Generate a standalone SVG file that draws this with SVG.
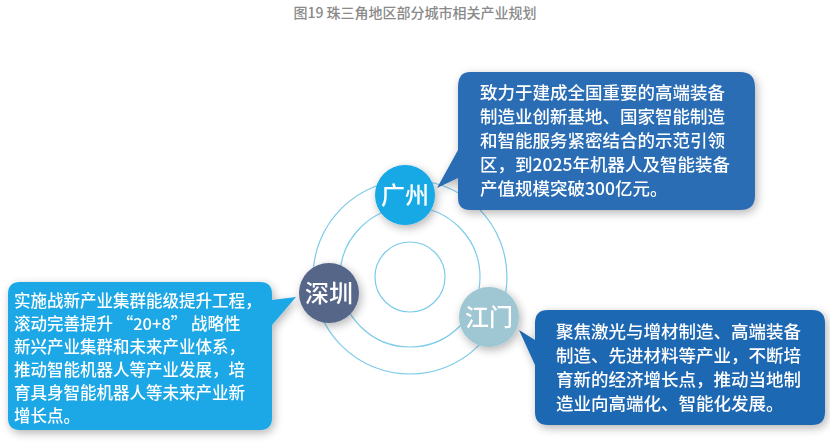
<svg xmlns="http://www.w3.org/2000/svg" width="830" height="442" viewBox="0 0 830 442">
<defs>
<filter id="sh" x="-20%" y="-20%" width="140%" height="140%"><feGaussianBlur in="SourceAlpha" stdDeviation="5"/><feOffset dx="2" dy="3"/><feComponentTransfer><feFuncA type="linear" slope="0.3"/></feComponentTransfer><feMerge><feMergeNode/><feMergeNode in="SourceGraphic"/></feMerge></filter>
</defs>
<style>
.t{font-family:"Noto Sans CJK SC","Noto Sans",sans-serif;fill:#fff;font-size:17.5px;font-weight:500}
.s{font-size:16.5px}
.n{font-family:"Noto Sans CJK SC",sans-serif;fill:#fff;font-size:24px;text-anchor:middle;font-weight:500}
.ring{fill:none;stroke:#7ccbea;stroke-width:1.2}
</style>
<rect width="830" height="442" fill="#fff"/>
<text x="415" y="18" text-anchor="middle" font-family="'Noto Sans CJK SC',sans-serif" font-size="14" font-weight="500" fill="#8a8a8a">图19 珠三角地区部分城市相关产业规划</text>
<g id="connectors">
<circle class="ring" cx="410" cy="277" r="97"/>
<circle class="ring" cx="410" cy="277" r="70"/>
<circle class="ring" cx="410" cy="277" r="35"/>
</g>
<g id="gz-callout" filter="url(#sh)">
<path d="M470,72 H740 Q755,72 755,87 V196 Q755,210 740,210 H470 Q458,210 458,198 V178 L437,188 L458,150 V87 Q458,72 470,72 Z" fill="#2a6db5"/>
<text class="t" x="480" y="99">致力于建成全国重要的高端装备</text>
<text class="t" x="480" y="123">制造业创新基地、国家智能制造</text>
<text class="t" x="480" y="147">和智能服务紧密结合的示范引领</text>
<text class="t" x="480" y="171">区，到2025年机器人及智能装备</text>
<text class="t" x="480" y="195">产值规模突破300亿元。</text>
</g>
<g id="sz-callout" filter="url(#sh)">
<path d="M20,282 H260 Q272,282 272,294 V300 L296,297 L272,325 V418 Q272,430 260,430 H20 Q8,430 8,418 V294 Q8,282 20,282 Z" fill="#1aa7e6"/>
<text class="t s" x="14" y="307">实施战新产业集群能级提升工程，</text>
<text class="t s" x="14" y="330">滚动完善提升 “20+8” 战略性</text>
<text class="t s" x="14" y="353">新兴产业集群和未来产业体系，</text>
<text class="t s" x="14" y="376">推动智能机器人等产业发展，培</text>
<text class="t s" x="14" y="399">育具身智能机器人等未来产业新</text>
<text class="t s" x="14" y="422">增长点。</text>
</g>
<g id="jm-callout" filter="url(#sh)">
<path d="M548,310 H812 Q825,310 825,323 V412 Q825,425 812,425 H548 Q535,425 535,412 V365 L519,330 L535,340 V323 Q535,310 548,310 Z" fill="#1f67b2"/>
<text class="t" x="556" y="338">聚焦激光与增材制造、高端装备</text>
<text class="t" x="556" y="362">制造、先进材料等产业，不断培</text>
<text class="t" x="556" y="386">育新的经济增长点，推动当地制</text>
<text class="t" x="556" y="410">造业向高端化、智能化发展。</text>
</g>
<g id="guangzhou" filter="url(#sh)"><circle cx="405" cy="195" r="30" fill="#12a9e6"/><text class="n" x="405" y="204">广州</text></g>
<g id="shenzhen" filter="url(#sh)"><circle cx="329" cy="293" r="30" fill="#566689"/><text class="n" x="329" y="302">深圳</text></g>
<g id="jiangmen" filter="url(#sh)"><circle cx="489" cy="317" r="30" fill="#9ec6d3"/><text class="n" x="489" y="326">江门</text></g>
</svg>
